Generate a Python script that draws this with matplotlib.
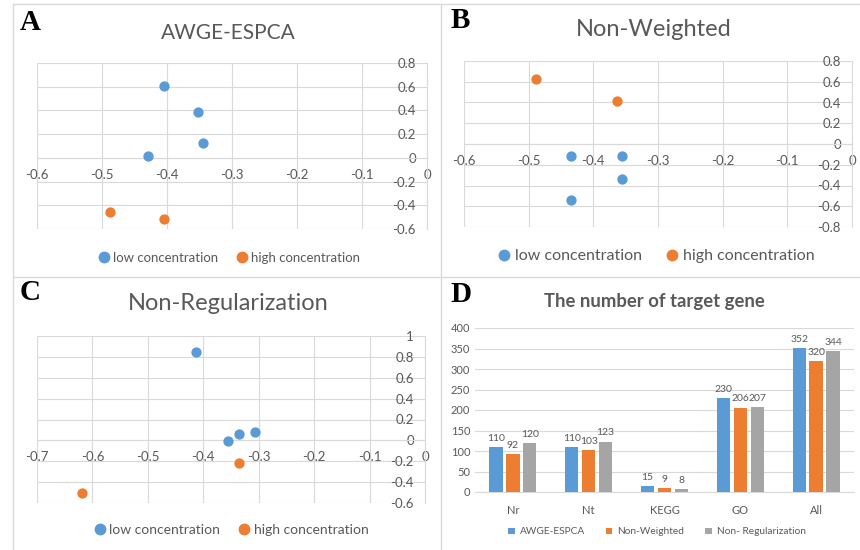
import matplotlib
matplotlib.use("Agg")
import matplotlib.pyplot as plt
from matplotlib.lines import Line2D
import numpy as np

# --- data ---
a_low_x = [-0.405, -0.352, -0.345, -0.430]
a_low_y = [0.610, 0.384, 0.122, 0.015]
a_high_x = [-0.488, -0.404]
a_high_y = [-0.455, -0.514]

b_low_x = [-0.434, -0.356, -0.356, -0.434]
b_low_y = [-0.113, -0.113, -0.337, -0.543]
b_high_x = [-0.488, -0.364]
b_high_y = [0.627, 0.410]

c_low_x = [-0.413, -0.356, -0.336, -0.307]
c_low_y = [0.843, -0.010, 0.060, 0.080]
c_high_x = [-0.335, -0.619]
c_high_y = [-0.221, -0.505]

categories = ["Nr", "Nt", "KEGG", "GO", "All"]
awge_espca = [110, 110, 15, 230, 352]
non_weighted = [92, 103, 9, 206, 320]
non_regular = [120, 123, 8, 207, 344]
methods = ["AWGE-ESPCA", "Non-Weighted", "Non- Regularization"]

BLUE = "#5B9BD5"
ORANGE = "#ED7D31"
GREY = "#A5A5A5"
TXT = "#595959"
GRID = "#D9D9D9"
FONT = "Lato"

W, H = 860, 550
fig = plt.figure(figsize=(W / 100, H / 100), dpi=100)
plt.rcParams["font.family"] = [FONT, "DejaVu Sans"]


def rect(l, r, t, b):
    return [l / W, 1 - b / H, (r - l) / W, (b - t) / H]


def fmt(v):
    return f"{v + 0.0:g}" if abs(v) > 1e-9 else "0"


def scatter_panel(box, lo_x, lo_y, hi_x, hi_y, xlim, ylim, ystep, xstep=0.1):
    ax = fig.add_axes(rect(*box))
    ax.scatter(lo_x, lo_y, s=55, color=BLUE, zorder=3, linewidths=0)
    ax.scatter(hi_x, hi_y, s=55, color=ORANGE, zorder=3, linewidths=0)
    ax.set_xlim(*xlim)
    ax.set_ylim(*ylim)
    xt = np.round(np.arange(xlim[0], xlim[1] + 1e-9, xstep), 2)
    yt = np.round(np.arange(ylim[0], ylim[1] + 1e-9, ystep), 2)
    ax.set_xticks(xt)
    ax.set_yticks(yt)
    ax.set_xticklabels([fmt(v) for v in xt])
    ax.set_yticklabels([fmt(v) for v in yt])
    ax.grid(True, color=GRID, lw=0.8)
    ax.set_axisbelow(True)
    for s in ["top", "right"]:
        ax.spines[s].set_visible(False)
    ax.spines["left"].set_position(("data", 0))
    ax.spines["bottom"].set_position(("data", 0))
    ax.spines["left"].set_color(GRID)
    ax.spines["bottom"].set_color(GRID)
    ax.tick_params(length=0, labelsize=9.5, colors=TXT)
    ax.tick_params(axis="y", pad=8)
    ax.tick_params(axis="x", pad=8)
    return ax


def legend_points(x, y, size, gap):
    handles = [Line2D([], [], ls="", marker="o", ms=7.5, color=BLUE),
               Line2D([], [], ls="", marker="o", ms=7.5, color=ORANGE)]
    fig.legend(handles, ["low concentration", "high concentration"], ncol=2,
               loc="center", bbox_to_anchor=(x / W, 1 - y / H), frameon=False,
               fontsize=size, labelcolor=TXT, handlelength=0.6,
               handletextpad=0.4, columnspacing=gap)


# panel A
scatter_panel((37, 427, 63, 229), a_low_x, a_low_y, a_high_x, a_high_y,
              (-0.6, 0), (-0.6, 0.8), 0.2)
legend_points(230, 258, 9.5, 1.5)

# panel B
scatter_panel((464, 852, 61, 227), b_low_x, b_low_y, b_high_x, b_high_y,
              (-0.6, 0), (-0.8, 0.8), 0.2)
legend_points(657, 256, 11.5, 1.6)

# panel C
scatter_panel((37, 425, 336, 503), c_low_x, c_low_y, c_high_x, c_high_y,
              (-0.7, 0), (-0.6, 1.0), 0.2)
legend_points(232, 530, 10, 1.4)

# panel D
ax_d = fig.add_axes(rect(475, 854, 328, 492))
x = np.arange(len(categories))
bw, step = 0.175, 0.223
for i, (vals, col) in enumerate(zip([awge_espca, non_weighted, non_regular], [BLUE, ORANGE, GREY])):
    bars = ax_d.bar(x + (i - 1) * step, vals, width=bw, color=col, label=methods[i], zorder=3)
    ax_d.bar_label(bars, padding=3, fontsize=7.5, color=TXT)
ax_d.set_xlim(-0.5, 4.5)
ax_d.set_ylim(0, 400)
ax_d.set_yticks(range(0, 401, 50))
ax_d.set_xticks(x)
ax_d.set_xticklabels(categories)
ax_d.yaxis.grid(True, color=GRID, lw=0.8)
ax_d.set_axisbelow(True)
for s in ["top", "right", "left"]:
    ax_d.spines[s].set_visible(False)
ax_d.spines["bottom"].set_color(GRID)
ax_d.tick_params(length=0, labelsize=8, colors=TXT)
ax_d.tick_params(axis="x", pad=9)
fig.legend(*ax_d.get_legend_handles_labels(), ncol=3, loc="center",
           bbox_to_anchor=(657 / W, 1 - 532 / H), frameon=False, fontsize=7.3,
           labelcolor=TXT, handlelength=0.6, handleheight=0.6, handletextpad=0.5,
           columnspacing=2.1)

# titles
fig.text(228 / W, 1 - 33 / H, "AWGE-ESPCA", ha="center", va="center", fontsize=15, color=TXT)
fig.text(654 / W, 1 - 30 / H, "Non-Weighted", ha="center", va="center", fontsize=17, color=TXT)
fig.text(228 / W, 1 - 303 / H, "Non-Regularization", ha="center", va="center", fontsize=17, color=TXT)
fig.text(654 / W, 1 - 301 / H, "The number of target gene", ha="center", va="center",
         fontsize=13.3, color=TXT, fontweight="bold")

# panel letters
for lab, px, py in [("A", 20, 22), ("B", 451, 21), ("C", 20, 292), ("D", 450, 294)]:
    fig.text(px / W, 1 - py / H, lab, ha="left", va="center", fontsize=21,
             fontweight="bold", family="Liberation Serif", color="black")

# chart frames
frame = dict(color=GRID, lw=1, transform=fig.transFigure)
fig.add_artist(Line2D([13 / W, 1], [1 - 4 / H] * 2, **frame))
fig.add_artist(Line2D([13 / W, 1], [1 - 277 / H] * 2, **frame))
fig.add_artist(Line2D([13 / W] * 2, [0, 1 - 4 / H], **frame))
fig.add_artist(Line2D([441 / W] * 2, [0, 1 - 4 / H], **frame))

fig.savefig("out.png", dpi=100)
